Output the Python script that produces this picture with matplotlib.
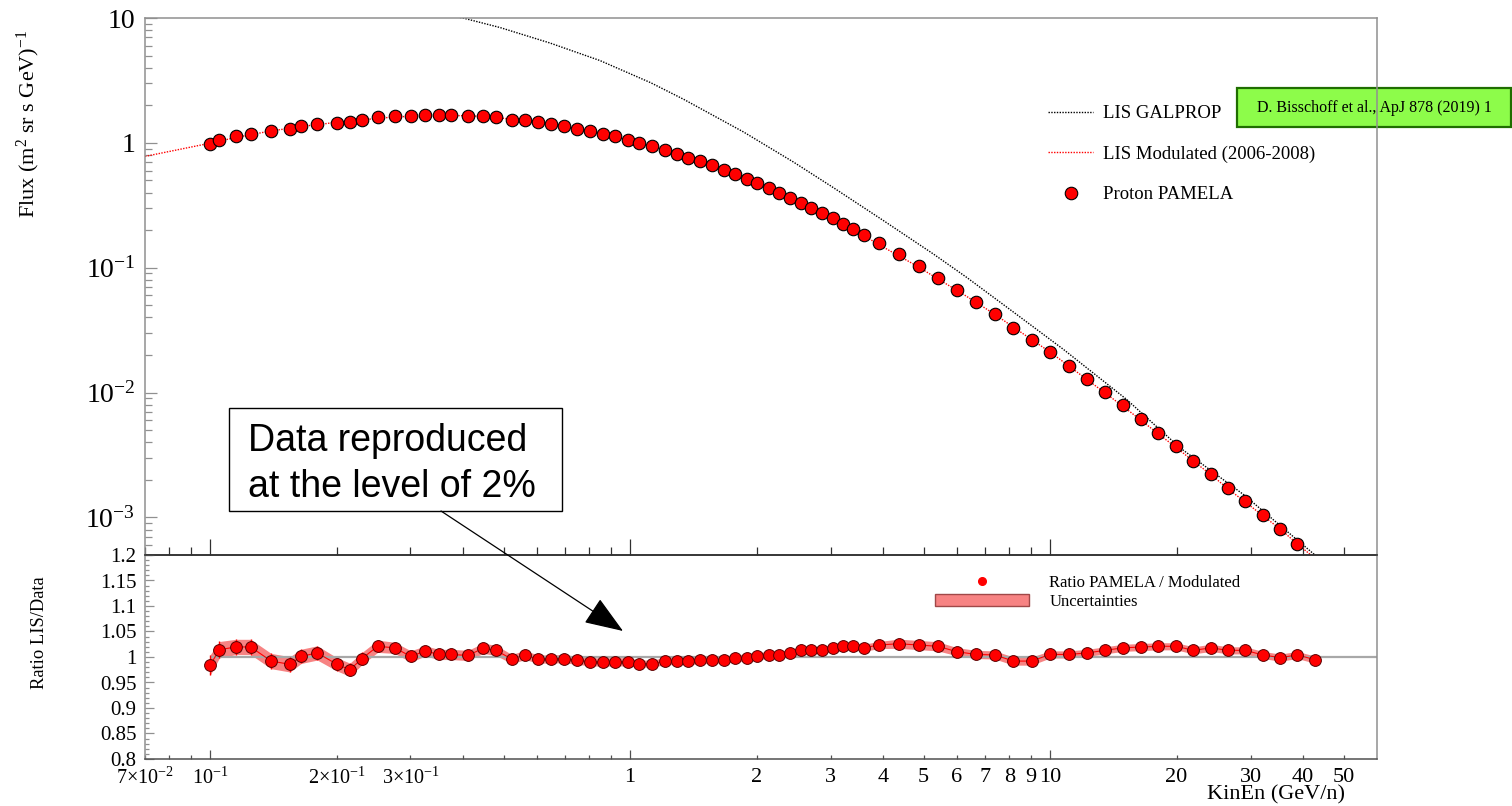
import numpy as np
import matplotlib
matplotlib.use("Agg")
import matplotlib.pyplot as plt
from matplotlib.ticker import FixedLocator, FuncFormatter, MultipleLocator, NullFormatter
from matplotlib.lines import Line2D
from matplotlib.patches import Patch, Rectangle, FancyArrowPatch

plt.rcParams["font.family"] = ["Liberation Serif", "DejaVu Serif"]
plt.rcParams["mathtext.fontset"] = "custom"
plt.rcParams["mathtext.rm"] = "Liberation Serif"
plt.rcParams["mathtext.it"] = "Liberation Serif:italic"
plt.rcParams["mathtext.bf"] = "Liberation Serif:bold"

# ---------------------------------------------------------------- data
# PAMELA proton spectrum 2006-2008: kinetic energy per nucleon (GeV/n)
energy = np.array([
    0.1, 0.1053, 0.1153, 0.1249, 0.1398, 0.155, 0.1648, 0.18, 0.2005, 0.2153,
    0.23, 0.2506, 0.275, 0.3004, 0.3256, 0.3505, 0.3754, 0.4109, 0.4467, 0.4796,
    0.5225, 0.5623, 0.602, 0.648, 0.696, 0.747, 0.804, 0.863, 0.923, 0.987,
    1.052, 1.129, 1.211, 1.291, 1.376, 1.467, 1.569, 1.672, 1.777, 1.894,
    2.006, 2.139, 2.265, 2.407, 2.55, 2.70, 2.86, 3.039, 3.218, 3.398,
    3.599, 3.910, 4.359, 4.86, 5.399, 5.999, 6.667, 7.384, 8.178, 9.029,
    10.0, 11.08, 12.23, 13.50, 14.91, 16.46, 18.11, 19.94, 21.94, 24.15,
    26.49, 29.15, 32.08, 35.31, 38.73, 42.63])

# measured flux (m^2 sr s GeV)^-1
flux = np.array([
    0.978, 1.047, 1.127, 1.185, 1.237, 1.29, 1.357, 1.408, 1.443, 1.461,
    1.525, 1.602, 1.642, 1.633, 1.663, 1.663, 1.663, 1.653, 1.653, 1.623,
    1.536, 1.516, 1.461, 1.426, 1.365, 1.30, 1.244, 1.185, 1.127, 1.061,
    0.996, 0.943, 0.882, 0.819, 0.760, 0.710, 0.660, 0.605, 0.5616, 0.516,
    0.4756, 0.4335, 0.395, 0.363, 0.331, 0.303, 0.275, 0.249, 0.2256, 0.2057,
    0.184, 0.1567, 0.1279, 0.1038, 0.0831, 0.0666, 0.053, 0.04246, 0.03315, 0.0264,
    0.0212, 0.01641, 0.01283, 0.01009, 0.00789, 0.00612, 0.00475, 0.00372, 0.00285, 0.002244,
    0.001719, 0.001345, 0.001038, 0.000805, 0.000618, 0.00047])

# ratio PAMELA / modulated LIS and its uncertainty
ratio = np.array([
    0.984, 1.0144, 1.0197, 1.0197, 0.992, 0.9856, 1.0013, 1.008, 0.9856, 0.975,
    0.997, 1.021, 1.018, 1.0013, 1.0118, 1.005, 1.005, 1.003, 1.017, 1.013,
    0.996, 1.004, 0.996, 0.996, 0.997, 0.9934, 0.991, 0.9896, 0.991, 0.990,
    0.987, 0.987, 0.992, 0.992, 0.992, 0.9935, 0.995, 0.995, 0.9974, 0.9987,
    1.0013, 1.004, 1.004, 1.008, 1.013, 1.013, 1.0143, 1.017, 1.021, 1.021,
    1.018, 1.0235, 1.026, 1.0235, 1.021, 1.0104, 1.005, 1.004, 0.992, 0.992,
    1.005, 1.005, 1.008, 1.013, 1.018, 1.0195, 1.021, 1.021, 1.013, 1.018,
    1.013, 1.013, 1.004, 0.9987, 1.004, 0.995])

ratio_err = np.array([
    0.020, 0.016, 0.015, 0.015, 0.015, 0.015, 0.014, 0.014, 0.013, 0.013,
    0.012, 0.012, 0.011, 0.011, 0.010, 0.010, 0.010, 0.010, 0.010, 0.010,
    0.009, 0.009, 0.008, 0.008, 0.008, 0.008, 0.008, 0.008, 0.008, 0.008,
    0.007, 0.007, 0.007, 0.007, 0.007, 0.007, 0.007, 0.007, 0.007, 0.007,
    0.007, 0.007, 0.007, 0.007, 0.007, 0.007, 0.007, 0.007, 0.007, 0.007,
    0.007, 0.007, 0.009, 0.009, 0.009, 0.008, 0.008, 0.008, 0.008, 0.008,
    0.007, 0.007, 0.007, 0.007, 0.007, 0.007, 0.007, 0.007, 0.007, 0.007,
    0.007, 0.007, 0.007, 0.007, 0.007, 0.007])

# GALPROP local interstellar spectrum
lis_energy = [0.30, 0.40, 0.49, 0.645, 0.848, 1.12, 1.34, 1.864, 2.45, 3.05,
              4.01, 5.27, 6.33, 8.3, 10.75, 15.2, 20.4, 28.9, 42.7, 50.0]
lis_flux = [11.5, 10.0, 8.39, 6.30, 4.56, 3.03, 2.236, 1.22, 0.701, 0.437,
            0.2384, 0.1289, 0.0836, 0.0425, 0.0222, 0.00882, 0.0036, 0.00152,
            5.0e-4, 3.3e-4]

# low-energy start of the modulated spectrum
mod_start_energy = 0.07
mod_start_flux = 0.779

# axis tick labels
x_major_ticks = [0.1, 1, 10]
x_minor_ticks = [0.07, 0.08, 0.09, 0.2, 0.3, 0.4, 0.5, 0.6, 0.7, 0.8, 0.9,
                 2, 3, 4, 5, 6, 7, 8, 9, 20, 30, 40, 50]
x_tick_labels = {0.07: r"$7{\times}10^{-2}$", 0.1: r"$10^{-1}$",
                 0.2: r"$2{\times}10^{-1}$", 0.3: r"$3{\times}10^{-1}$",
                 1: "1", 2: "2", 3: "3", 4: "4", 5: "5", 6: "6", 7: "7",
                 8: "8", 9: "9", 10: "10", 20: "20", 30: "30", 40: "40",
                 50: "50"}
y_major_ticks = [1e-3, 1e-2, 1e-1, 1, 10]
y_tick_labels = [r"$10^{-3}$", r"$10^{-2}$", r"$10^{-1}$", "1", "10"]

XMIN, XMAX = 0.07, 60
YMIN, YMAX = 5e-4, 10

# ---------------------------------------------------------------- figure
W, H = 1512, 806
fig = plt.figure(figsize=(W / 100, H / 100), dpi=100)


def px_rect(x0, y0, x1, y1):
    return [x0 / W, 1 - y1 / H, (x1 - x0) / W, (y1 - y0) / H]


def fx(x):
    return x / W


def fy(y):
    return 1 - y / H


ax = fig.add_axes(px_rect(145, 18, 1377, 555))
axr = fig.add_axes(px_rect(145, 555, 1377, 759))
for a in (ax, axr):
    a.patch.set_visible(False)

# ---------------------------------------------------------------- top panel
ax.set_xscale("log")
ax.set_yscale("log")
ax.set_xlim(XMIN, XMAX)
ax.set_ylim(YMIN, YMAX)

mod_energy = np.concatenate([[mod_start_energy], energy])
mod_flux = np.concatenate([[mod_start_flux], flux / ratio])

ax.plot(lis_energy, lis_flux, color="black", ls=(0, (1, 1)), lw=1.0,
        label="LIS GALPROP", zorder=2)
ax.plot(mod_energy, mod_flux, color="red", ls=(0, (1, 1)), lw=1.0,
        label="LIS Modulated (2006-2008)", zorder=2)
inside = flux >= YMIN
ax.plot(energy[inside], flux[inside], ls="none", marker="o", ms=9,
        mfc="red", mec="black", mew=0.8, label="Proton PAMELA", zorder=3)

ax.legend(loc="upper left", bbox_to_anchor=(fx(1048), fy(105)),
          bbox_transform=fig.transFigure, frameon=False, fontsize=13.5,
          handlelength=2.4, handletextpad=0.55, labelspacing=1.24,
          borderpad=0, borderaxespad=0)

# ---------------------------------------------------------------- ratio panel
axr.set_xscale("log")
axr.set_xlim(XMIN, XMAX)
axr.set_ylim(0.8, 1.2)

band_color = "#f78383"
axr.fill_between(energy, ratio - ratio_err, ratio + ratio_err,
                 color=band_color, lw=0, zorder=1)
axr.hlines(1.0, energy[0], XMAX, color="#a8a8a8", lw=1.6, zorder=2)
axr.plot(energy, ratio, color="red", lw=0.8, zorder=2.5)
axr.errorbar(energy, ratio, yerr=ratio_err, fmt="o", ms=8.5, mfc="red",
             mec="#5a0000", mew=0.7, ecolor="red", elinewidth=1.0,
             capsize=0, zorder=3)

leg_handles = [Line2D([], [], ls="none", marker="o", ms=5.5, color="red",
                      mec="red"),
               Patch(fc=band_color, ec="#a04848", lw=1.0)]
axr.legend(leg_handles, ["Ratio PAMELA / Modulated", "Uncertainties"],
           loc="upper left", bbox_to_anchor=(fx(935), fy(575)),
           bbox_transform=fig.transFigure, frameon=False, fontsize=12,
           handlelength=5.65, handleheight=0.78, handletextpad=1.2,
           labelspacing=0.17, borderpad=0, borderaxespad=0)

# ---------------------------------------------------------------- axes styling
def xlabel_fmt(v, pos):
    for key, text in x_tick_labels.items():
        if abs(v - key) < 1e-6 * key:
            return text
    return ""


for a in (ax, axr):
    a.xaxis.set_major_locator(FixedLocator(x_major_ticks))
    a.xaxis.set_minor_locator(FixedLocator(x_minor_ticks))
    a.xaxis.set_major_formatter(FuncFormatter(xlabel_fmt))
    a.xaxis.set_minor_formatter(FuncFormatter(xlabel_fmt))
    a.tick_params(which="both", direction="in", top=False, right=False)
    for s in a.spines.values():
        s.set_linewidth(1.1)
        s.set_color("#909090")

ax.spines["bottom"].set_color("#303030")
axr.spines["top"].set_color("#303030")
axr.spines["bottom"].set_color("#505050")

ax.tick_params(axis="x", which="both", labelbottom=False, color="#303030")
ax.tick_params(axis="x", which="major", length=11.5, width=0.9)
ax.tick_params(axis="x", which="minor", length=5.8, width=0.9)

ax.yaxis.set_major_locator(FixedLocator(y_major_ticks))
ax.yaxis.set_major_formatter(FuncFormatter(
    lambda v, p: y_tick_labels[int(np.argmin(np.abs(np.log10(y_major_ticks) - np.log10(v))))]))
ax.yaxis.set_minor_formatter(NullFormatter())
ax.tick_params(axis="y", which="major", length=8.6, width=0.9,
               color="#909090", labelsize=20, pad=7)
ax.tick_params(axis="y", which="minor", length=5.0, width=0.9,
               color="#909090")

axr.tick_params(axis="x", which="both", labelsize=16, pad=6.5,
                color="#505050")
axr.tick_params(axis="x", which="major", length=6.5, width=0.9)
axr.tick_params(axis="x", which="minor", length=3.2, width=0.9)
axr.yaxis.set_major_locator(MultipleLocator(0.05))
axr.yaxis.set_minor_locator(MultipleLocator(0.01))
axr.yaxis.set_major_formatter(FuncFormatter(lambda v, p: "%g" % round(v, 3)))
axr.tick_params(axis="y", which="major", length=6.5, width=0.9,
               color="#909090", labelsize=15, pad=6)
axr.tick_params(axis="y", which="minor", length=3.2, width=0.9,
               color="#909090")

ax.set_ylabel(r"Flux (m$^{2}$ sr s GeV)$^{-1}$", fontsize=16, loc="top")
ax.yaxis.set_label_coords((42 - 145) / 1232, 1 - 12 / 537)
axr.set_ylabel("Ratio LIS/Data", fontsize=13.3, loc="top")
axr.yaxis.set_label_coords((48 - 145) / 1232, 1 - 21 / 204)
axr.set_xlabel("KinEn (GeV/n)", fontsize=16, loc="right")
axr.xaxis.set_label_coords((1345 - 145) / 1232, -26 / 204)

# ---------------------------------------------------------------- reference box
fig.add_artist(Rectangle((fx(1237), fy(127)), (1511 - 1237) / W, (127 - 88) / H,
                         transform=fig.transFigure, fc="#8dfc4a",
                         ec="#1f6e00", lw=1.6, zorder=-2))
fig.text(fx(1374), fy(108), "D. Bisschoff et al., ApJ 878 (2019) 1",
         fontsize=11.5, ha="center", va="center", zorder=-1)

# ---------------------------------------------------------------- comment box with arrow
fig.add_artist(Rectangle((fx(229), fy(511)), (562 - 229) / W, (511 - 408) / H,
                         transform=fig.transFigure, fc="white", ec="black",
                         lw=1.0, zorder=5))
fig.text(fx(248), fy(464), "Data reproduced\nat the level of 2%",
         family="Liberation Sans", fontsize=27, ha="left", va="center",
         linespacing=1.35, zorder=6)
fig.add_artist(FancyArrowPatch((fx(441), fy(511)), (fx(623), fy(631)),
                               transform=fig.transFigure,
                               arrowstyle="-|>,head_length=2.45,head_width=0.92",
                               mutation_scale=10, color="black", lw=0.9,
                               shrinkA=0, shrinkB=0, zorder=6))

# exponent-style energy labels are set a little smaller than plain numbers
fig.canvas.draw()
for t in axr.xaxis.get_major_ticks() + axr.xaxis.get_minor_ticks():
    if "$" in t.label1.get_text():
        t.label1.set_fontsize(14.5)

fig.savefig("out.png", dpi=100)
